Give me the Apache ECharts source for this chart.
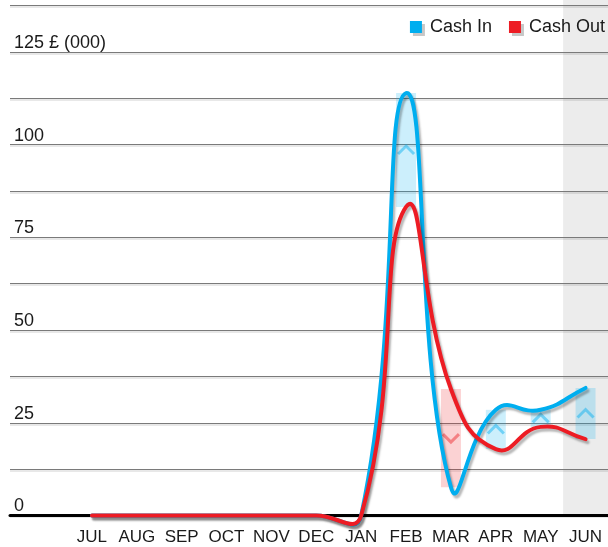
<!DOCTYPE html>
<html>
<head>
<meta charset="utf-8">
<script src="https://cdn.jsdelivr.net/npm/echarts@6/dist/echarts.min.js"></script>
<style>
	html, body { margin: 0; padding: 0; background: #fff; }
	#chart { width: 608px; height: 547px; }
</style>
</head>
<body>
<div id="chart"></div>
<script>
const months = ["JUL", "AUG", "SEP", "OCT", "NOV", "DEC", "JAN", "FEB", "MAR", "APR", "MAY", "JUN"];
const cashIn = [0, 0, 0, 0, 0, 0, 0, 113.9, 7.6, 28.5, 28.5, 34.4];
const cashOut = [0, 0, 0, 0, 0, 0, 0, 83.2, 34.1, 17.9, 23.9, 20.6];
const yTickLabels = ["0", "25", "50", "75", "100", "125 £ (000)"];

const blue = "#00aeef";
const red = "#ed1c24";
const font = "Liberation Sans, Arial, sans-serif";
const smooth = 0.5;

// net boxes: only where in and out differ
const netBoxes = [];
months.forEach((m, i) => {
	if (cashIn[i] !== cashOut[i]) netBoxes.push([i, cashIn[i], cashOut[i]]);
});

// last month shaded (forecast)
const bandColors = months.map((m, i) => (i === months.length - 1 ? "#ececec" : "rgba(0,0,0,0)"));

function dist(a, b) {
	return Math.sqrt((a[0] - b[0]) * (a[0] - b[0]) + (a[1] - b[1]) * (a[1] - b[1]));
}

// unconstrained smooth curve (old zrender style, lets it overshoot a bit)
function curveSeries(name, values, color, z) {
	return {
		name,
		type: "custom",
		xAxisIndex: 0,
		yAxisIndex: 0,
		z,
		clip: false,
		itemStyle: { color },
		data: values.map((v, i) => [i, v]),
		renderItem(params, api) {
			if (params.dataIndex !== 0) return null;
			const pts = values.map((v, i) => api.coord([i, v]));
			const n = pts.length;
			const cps = [];
			for (let i = 0; i < n; i++) {
				const p = pts[i];
				const prev = pts[Math.max(i - 1, 0)];
				const next = pts[Math.min(i + 1, n - 1)];
				const vx = next[0] - prev[0];
				const vy = next[1] - prev[1];
				let d0 = dist(p, prev);
				let d1 = dist(p, next);
				const sum = d0 + d1;
				if (sum) {
					d0 /= sum;
					d1 /= sum;
				}
				cps.push([
					[p[0] - vx * d0 * smooth, p[1] - vy * d0 * smooth],
					[p[0] + vx * d1 * smooth, p[1] + vy * d1 * smooth],
				]);
			}
			let d = "M" + pts[0][0] + "," + pts[0][1];
			for (let i = 0; i < n - 1; i++) {
				const c1 = cps[i][1];
				const c2 = cps[i + 1][0];
				const p2 = pts[i + 1];
				d += " C" + c1[0] + "," + c1[1] + " " + c2[0] + "," + c2[1] + " " + p2[0] + "," + p2[1];
			}
			return {
				type: "path",
				shape: { pathData: d },
				style: {
					fill: "none",
					stroke: color,
					lineWidth: 4,
					lineJoin: "round",
					lineCap: "round",
					shadowColor: "rgba(0,0,0,0.28)",
					shadowBlur: 2,
					shadowOffsetX: 2,
					shadowOffsetY: 3,
				},
			};
		},
	};
}

const chart = echarts.init(document.getElementById("chart"), null, { renderer: "canvas" });

chart.setOption({
	animation: false,
	textStyle: { fontFamily: font },
	legend: {
		right: 3,
		top: 18,
		padding: 0,
		icon: "rect",
		itemWidth: 12,
		itemHeight: 12,
		itemGap: 17,
		textStyle: { fontSize: 18, color: "#1a1a1a", fontFamily: font, padding: [0, 0, 0, 3] },
		itemStyle: { shadowColor: "rgba(0,0,0,0.22)", shadowOffsetX: 3, shadowOffsetY: 3, shadowBlur: 0 },
		data: ["Cash In", "Cash Out"],
	},
	grid: [
		// data grid
		{ left: 69.5, right: -2.5, top: 0, bottom: 31.5 },
		// gridlines + y labels
		{ left: 10, right: 0, top: 5.6, bottom: 31.5 },
	],
	xAxis: [
		{
			type: "category",
			gridIndex: 0,
			data: months,
			boundaryGap: true,
			z: 0,
			axisLine: { show: false },
			axisTick: { show: false },
			axisLabel: { fontSize: 17, color: "#1a1a1a", fontFamily: font, margin: 13, interval: 0 },
			splitArea: { show: true, interval: 0, areaStyle: { color: bandColors } },
		},
		{
			type: "value",
			gridIndex: 1,
			min: 0,
			max: 1,
			z: 1,
			axisLine: { show: true, onZero: false, lineStyle: { color: "#000", width: 3 } },
			axisTick: { show: false },
			axisLabel: { show: false },
			splitLine: { show: false },
		},
	],
	yAxis: [
		{
			type: "value",
			gridIndex: 0,
			min: 0,
			max: 139,
			show: false,
			splitLine: { show: false },
		},
		{
			type: "value",
			gridIndex: 1,
			min: 0,
			max: 137.5,
			interval: 12.5,
			z: 1,
			axisLine: { show: false },
			axisTick: { show: false },
			axisLabel: {
				inside: true,
				margin: 4,
				verticalAlign: "bottom",
				fontSize: 18,
				color: "#1a1a1a",
				fontFamily: font,
				formatter: (v) => (v % 25 === 0 ? yTickLabels[v / 25] || "" : ""),
			},
			splitLine: {
				lineStyle: { color: "#7a7a7a", width: 1, shadowColor: "rgba(0,0,0,0.18)", shadowOffsetY: 1.5 },
			},
		},
	],
	series: [
		{
			type: "custom",
			xAxisIndex: 0,
			yAxisIndex: 0,
			z: 1,
			data: netBoxes,
			renderItem(params, api) {
				const i = api.value(0);
				const vin = api.value(1);
				const vout = api.value(2);
				const pIn = api.coord([i, vin]);
				const pOut = api.coord([i, vout]);
				const up = vin > vout;
				const cx = pIn[0];
				const mid = (pIn[1] + pOut[1]) / 2;
				const w = 20;
				const pts = up
					? [[cx - 8, mid + 4], [cx, mid - 4], [cx + 8, mid + 4]]
					: [[cx - 8, mid - 4], [cx, mid + 4], [cx + 8, mid - 4]];
				return {
					type: "group",
					children: [
						{
							type: "rect",
							shape: { x: cx - w / 2, y: Math.min(pIn[1], pOut[1]), width: w, height: Math.abs(pIn[1] - pOut[1]) },
							style: { fill: up ? "rgba(0,174,239,0.2)" : "rgba(237,28,36,0.2)" },
						},
						{
							type: "polyline",
							shape: { points: pts },
							style: { stroke: up ? "rgba(0,174,239,0.45)" : "rgba(237,28,36,0.45)", lineWidth: 3, fill: null },
						},
					],
				};
			},
		},
		curveSeries("Cash In", cashIn, blue, 3),
		curveSeries("Cash Out", cashOut, red, 4),
	],
});
</script>
</body>
</html>
